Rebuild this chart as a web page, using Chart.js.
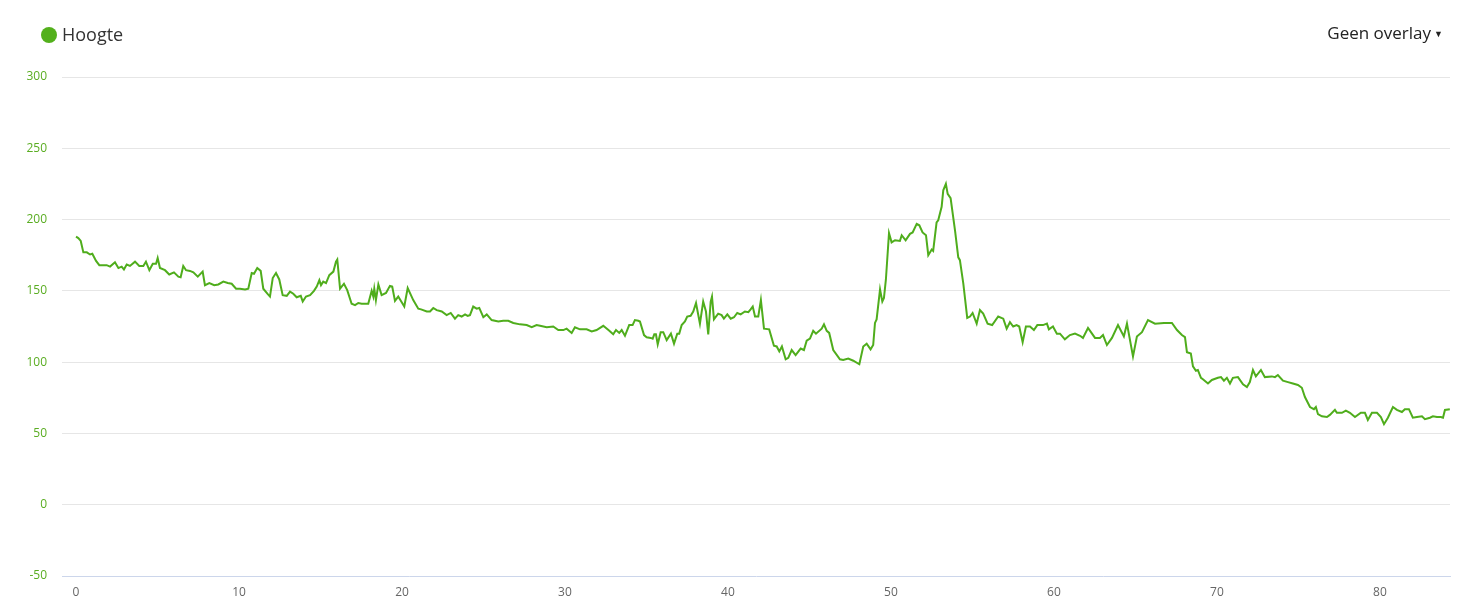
<!DOCTYPE html>
<html>
<head>
<meta charset="utf-8">
<script src="https://cdn.jsdelivr.net/npm/chart.js@4/dist/chart.umd.min.js"></script>
<style>
  body { margin: 0; background: #fff; font-family: "Open Sans", sans-serif; }
  #wrap { position: relative; width: 1473px; height: 616px; }
  #myChart { position: absolute; left: 0; top: 0; }
  .legend { position: absolute; left: 41px; top: 21px; font-size: 18px; color: #333; line-height: 26px; }
  .legend .dot { display: inline-block; width: 16px; height: 16px; border-radius: 50%; background: #53b01c; vertical-align: -2px; margin-right: 5px; }
  .overlay { position: absolute; right: 30px; top: 20px; font-size: 17px; color: #222; line-height: 26px; }
  .overlay .caret { font-size: 9px; vertical-align: 2px; margin-left: 3px; }
</style>
</head>
<body>
<div id="wrap">
  <canvas id="myChart" width="1473" height="616"></canvas>
  <div class="legend"><span class="dot"></span>Hoogte</div>
  <div class="overlay">Geen overlay<span class="caret">&#9660;</span></div>
</div>
<script>
const distance = [
  0.00, 0.14, 0.29, 0.45, 0.66, 0.86, 1.00, 1.23, 1.43, 1.67, 1.88, 2.09, 2.39, 2.60, 2.80, 2.94,
  3.11, 3.31, 3.62, 3.88, 4.13, 4.29, 4.50, 4.71, 4.91, 5.01, 5.15, 5.46, 5.72, 6.01, 6.28, 6.42,
  6.58, 6.75, 6.99, 7.20, 7.47, 7.77, 7.91, 8.18, 8.48, 8.73, 9.04, 9.31, 9.55, 9.82, 10.06, 10.37,
  10.57, 10.78, 10.92, 11.12, 11.33, 11.49, 11.74, 11.90, 12.07, 12.27, 12.47, 12.68, 12.93, 13.13,
  13.33, 13.54, 13.79, 13.91, 14.11, 14.36, 14.60, 14.77, 14.93, 15.03, 15.17, 15.34, 15.54, 15.79,
  15.95, 16.03, 16.20, 16.44, 16.64, 16.91, 17.12, 17.32, 17.53, 17.93, 18.14, 18.24, 18.30, 18.40,
  18.55, 18.75, 19.02, 19.26, 19.40, 19.57, 19.77, 20.14, 20.35, 20.69, 21.00, 21.17, 21.52, 21.72,
  21.92, 22.13, 22.44, 22.74, 22.99, 23.25, 23.45, 23.66, 23.87, 24.03, 24.17, 24.37, 24.58, 24.74,
  24.99, 25.20, 25.50, 25.91, 26.21, 26.52, 26.83, 27.24, 27.65, 27.96, 28.26, 28.47, 28.88, 29.28,
  29.59, 29.90, 30.10, 30.41, 30.61, 30.92, 31.33, 31.64, 31.94, 32.35, 32.72, 32.96, 33.13, 33.33,
  33.48, 33.68, 33.94, 34.15, 34.29, 34.50, 34.60, 34.85, 35.01, 35.26, 35.38, 35.48, 35.58, 35.69,
  35.87, 36.03, 36.24, 36.50, 36.69, 36.89, 37.01, 37.16, 37.36, 37.50, 37.71, 37.87, 38.04, 38.28,
  38.48, 38.65, 38.79, 38.94, 39.02, 39.14, 39.40, 39.61, 39.75, 39.96, 40.17, 40.37, 40.57, 40.78,
  41.04, 41.25, 41.39, 41.52, 41.66, 41.86, 42.02, 42.21, 42.53, 42.82, 42.99, 43.15, 43.31, 43.54,
  43.70, 43.91, 44.15, 44.46, 44.66, 44.83, 45.03, 45.23, 45.40, 45.75, 45.89, 46.06, 46.21, 46.46,
  46.87, 47.07, 47.38, 47.69, 48.06, 48.30, 48.51, 48.75, 48.91, 49.02, 49.12, 49.33, 49.47, 49.57,
  49.69, 49.88, 50.04, 50.25, 50.55, 50.66, 50.90, 51.17, 51.33, 51.58, 51.74, 51.94, 52.15, 52.29,
  52.50, 52.59, 52.80, 52.90, 53.11, 53.21, 53.37, 53.48, 53.66, 53.93, 54.13, 54.23, 54.44, 54.68,
  54.85, 55.01, 55.26, 55.46, 55.66, 55.93, 56.21, 56.58, 56.89, 57.10, 57.30, 57.50, 57.71, 57.87,
  58.08, 58.28, 58.53, 58.77, 58.98, 59.33, 59.57, 59.69, 59.94, 60.18, 60.37, 60.67, 60.98, 61.29,
  61.60, 61.78, 62.09, 62.52, 62.82, 63.01, 63.25, 63.56, 63.93, 64.29, 64.48, 64.85, 65.09, 65.40,
  65.77, 66.20, 66.75, 67.24, 67.55, 67.85, 68.04, 68.16, 68.40, 68.53, 68.71, 68.83, 69.02, 69.14,
  69.45, 69.69, 70.06, 70.25, 70.43, 70.61, 70.80, 70.98, 71.29, 71.60, 71.84, 72.02, 72.21, 72.39,
  72.70, 72.94, 73.37, 73.56, 73.74, 74.05, 74.36, 74.66, 74.97, 75.21, 75.40, 75.71, 75.95, 76.07,
  76.20, 76.44, 76.75, 76.93, 77.24, 77.36, 77.67, 77.91, 78.16, 78.47, 78.83, 79.08, 79.26, 79.51,
  79.82, 80.06, 80.25, 80.49, 80.80, 81.04, 81.35, 81.53, 81.78, 82.02, 82.27, 82.58, 82.76, 83.07,
  83.25, 83.50, 83.74, 83.87, 83.99, 84.29
];

const elevation = [
  188, 187, 185, 177, 177, 175.5, 176, 171, 168, 168, 168, 167, 170, 166, 167, 165,
  168.5, 167.5, 170.5, 167.5, 167.5, 170.5, 164.5, 169, 169, 173, 166, 164.5, 161.5, 163, 160, 159.5,
  167.5, 164.5, 164, 163, 160, 163.5, 154, 155.5, 154, 154.5, 156.5, 155.5, 155, 151.5, 151.5, 151,
  151.5, 162.5, 162, 166, 164, 151.5, 148, 146, 159, 162.5, 158, 147, 146.5, 149.5,
  148, 145.5, 146.5, 142.5, 146, 147, 150, 153, 157.5, 154, 156.5, 155.5, 161, 163.5,
  170.5, 172, 151.5, 155, 150.5, 141, 140, 141.5, 141, 141, 150, 146, 151.5, 143.5,
  154.5, 147, 148.5, 153.5, 153, 143, 146, 139, 152, 143.5, 137.5, 137, 135.5, 135.5,
  138, 136.5, 135.5, 133, 134.5, 130.5, 133, 132, 133.5, 132.5, 133, 139, 137.5, 138,
  131.5, 133.5, 129.5, 128.5, 129, 129, 127.5, 126.5, 126, 124.5, 126, 125.5, 124.5, 125,
  122.5, 122.5, 123.5, 120.5, 124.5, 123, 123, 121.5, 122.5, 125.5, 122, 119.5, 122.5, 120.5,
  122.5, 118.5, 126, 126, 129.5, 129, 128.5, 119, 117.5, 117, 116.5, 119.5, 119.5, 112.5,
  121, 121, 115.5, 120, 113, 120, 120, 126, 128.5, 132, 132.5, 135.5, 141.5, 127,
  142.5, 135.5, 119.5, 142.5, 146, 130, 134, 133, 130.5, 133.5, 130.5, 131.5, 134.5, 133.5,
  135.5, 135, 137, 139, 132, 132, 143.5, 123.5, 123, 111.5, 111, 107.5, 111, 102,
  103, 108.5, 105, 109.5, 108.5, 115, 116.5, 122, 120, 123.5, 126.5, 122, 120.5, 108.5,
  102, 101.5, 102.5, 101, 98.5, 111, 113, 109, 112, 127.5, 130, 151, 142.5, 145,
  158, 190.5, 184, 185.5, 185, 189, 185.5, 190, 191, 197, 196, 191, 189, 175,
  179, 178, 198, 199.5, 209, 220.5, 225, 218, 215, 192.5, 173.5, 171.5, 155, 131,
  132, 134.5, 127, 136.5, 134, 127, 126, 132, 130.5, 123.5, 128, 125, 126, 125,
  114, 125, 125, 122.5, 126, 126, 127, 123, 125, 120, 120, 116, 119, 120,
  118.5, 117, 124, 117, 117, 119, 112, 117, 126, 118, 127, 104, 118, 121,
  129.5, 127, 127.5, 127.5, 122.5, 119, 117.5, 107, 106, 97, 94, 94.5, 89, 88,
  85, 87.5, 89, 89.5, 87, 89, 85, 89, 89.5, 84.5, 82.5, 86, 94.5, 90,
  94.5, 89.5, 90, 89.5, 91, 87, 86, 85, 84, 82, 75.5, 68.5, 67, 68.5,
  63.5, 62, 61.5, 63, 66.5, 64.5, 64.5, 66, 64.5, 61.5, 64.5, 64.5, 59.5, 64.5,
  64.5, 61.5, 56.5, 61, 68.5, 66.5, 65, 67, 67, 61, 61.5, 62, 60, 61,
  62, 61.5, 61.5, 61, 66.5, 67
];

const xTicks = [0, 10, 20, 30, 40, 50, 60, 70, 80];
const yTicks = [-50, 0, 50, 100, 150, 200, 250, 300];

const points = distance.map((d, i) => ({ x: d, y: elevation[i] }));

const ctx = document.getElementById('myChart').getContext('2d');
const chart = new Chart(ctx, {
    type: 'line',
    data: {
        datasets: [{
            label: 'Hoogte',
            data: points,
            borderColor: '#4fad1c',
            borderWidth: 2,
            pointRadius: 0,
            tension: 0,
            fill: false
        }]
    },
    options: {
        responsive: false,
        animation: false,
        layout: { padding: { top: 77, right: 23, left: 0, bottom: 0 } },
        plugins: {
            legend: { display: false },
            tooltip: { enabled: false }
        },
        scales: {
            x: {
                type: 'linear',
                min: -0.86,
                max: 84.3,
                afterBuildTicks: scale => {
                    scale.ticks = xTicks.map(v => ({ value: v }));
                },
                afterFit: scale => { scale.height = 40; },
                grid: { display: false, drawTicks: false },
                border: { display: true, color: '#ccd6eb', width: 1 },
                ticks: {
                    padding: 9,
                    color: '#666',
                    font: { family: 'Open Sans', size: 12 },
                    maxRotation: 0
                }
            },
            y: {
                min: -50,
                max: 300,
                afterBuildTicks: scale => {
                    scale.ticks = yTicks.map(v => ({ value: v }));
                },
                afterFit: scale => { scale.width = 62; },
                grid: {
                    drawTicks: false,
                    color: c => c.tick && c.tick.value === -50 ? 'rgba(0,0,0,0)' : '#e6e6e6',
                    lineWidth: 1
                },
                border: { display: false },
                ticks: {
                    padding: 15,
                    color: '#5aad22',
                    font: { family: 'Open Sans', size: 12 }
                }
            }
        }
    }
});
</script>
</body>
</html>
